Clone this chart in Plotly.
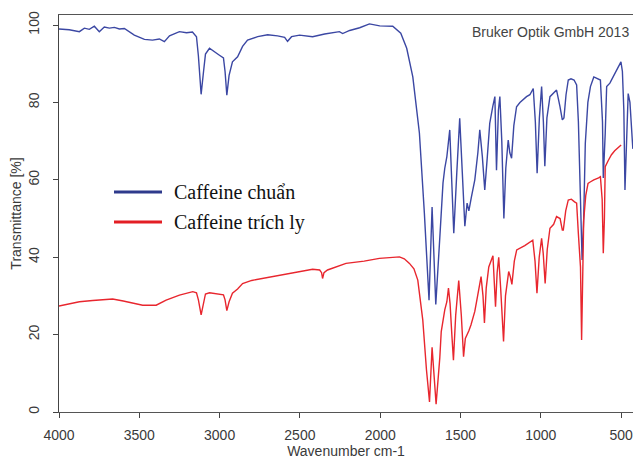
import plotly.graph_objects as go

# ---- data ----
wn_std = [4000, 3936, 3873, 3842, 3811, 3780, 3749, 3718, 3686, 3655, 3624, 3593, 3531, 3468, 3418,
          3375, 3344, 3312, 3250, 3206, 3169, 3144, 3132, 3115, 3100, 3088, 3063, 3032, 3001, 2976,
          2966, 2955, 2941, 2920, 2888, 2857, 2826, 2763, 2701, 2639, 2595, 2577, 2552, 2502, 2421,
          2346, 2254, 2234, 2190, 2128, 2067, 2003, 1922, 1872, 1835, 1797, 1756, 1725, 1696, 1677,
          1654, 1629, 1609, 1598, 1585, 1567, 1554, 1542, 1523, 1505, 1489, 1473, 1459, 1448, 1432,
          1411, 1392, 1380, 1364, 1349, 1333, 1318, 1299, 1286, 1276, 1264, 1255, 1243, 1230, 1218,
          1203, 1193, 1182, 1168, 1151, 1130, 1089, 1068, 1047, 1034, 1023, 1009, 995, 984, 975,
          962, 943, 925, 902, 881, 866, 856, 843, 829, 812, 793, 777, 766, 753, 743,
          733, 723, 707, 691, 670, 652, 629, 616, 611, 599, 590, 570, 549, 527, 501,
          492, 483, 476, 467, 456, 445, 437, 427]
t_std = [99.0, 98.8, 98.3, 99.2, 98.9, 99.7, 98.3, 99.5, 99.2, 99.4, 99.0, 99.1, 97.4, 96.3, 96.1,
         96.4, 95.7, 97.2, 98.3, 98.0, 98.2, 97.0, 92.0, 82.1, 88.0, 92.5, 94.0, 93.2, 92.2, 91.5,
         88.0, 81.9, 87.0, 90.5, 91.8, 94.5, 96.1, 97.0, 97.5, 97.2, 96.8, 95.8, 97.0, 97.4, 97.0,
         97.7, 98.3, 97.8, 98.6, 99.3, 100.3, 99.8, 99.7, 97.9, 94.0, 86.6, 72.1, 51.4, 28.9, 53.0,
         27.8, 45.0, 59.2, 63.0, 66.0, 72.9, 60.0, 46.2, 62.0, 75.9, 62.0, 48.0, 54.0, 52.0, 55.6,
         60.0, 67.0, 72.9, 66.0, 57.4, 66.0, 74.6, 79.0, 81.5, 62.5, 78.0, 81.5, 70.0, 50.0, 63.0,
         70.3, 67.0, 65.6, 74.0, 78.9, 80.0, 81.5, 82.0, 83.6, 75.0, 61.7, 76.0, 84.1, 75.0, 63.5,
         76.0, 81.5, 82.3, 83.2, 79.0, 75.5, 76.0, 82.0, 85.8, 86.1, 85.8, 84.5, 75.0, 56.6, 39.3,
         50.0, 69.4, 80.0, 84.1, 86.6, 86.2, 85.8, 75.0, 60.5, 72.0, 84.1, 85.0, 86.6, 88.5, 90.5,
         88.0, 78.0, 57.4, 70.0, 82.3, 80.0, 73.7, 68.0]

wn_ext = [4000, 3936, 3873, 3790, 3720, 3666, 3600, 3530, 3479, 3395, 3333, 3250, 3167, 3144, 3132,
          3115, 3100, 3088, 3063, 3001, 2976, 2966, 2955, 2941, 2920, 2888, 2857, 2800, 2735, 2650,
          2502, 2421, 2377, 2365, 2359, 2350, 2328, 2213, 2100, 2005, 1880, 1850, 1818, 1790, 1766,
          1735, 1712, 1693, 1677, 1652, 1629, 1620, 1598, 1585, 1575, 1565, 1554, 1544, 1530, 1511,
          1495, 1481, 1470, 1454, 1448, 1435, 1411, 1400, 1380, 1372, 1360, 1351, 1340, 1324, 1298,
          1290, 1282, 1272, 1262, 1250, 1232, 1220, 1200, 1190, 1180, 1165, 1150, 1100, 1050, 1036,
          1024, 1010, 995, 985, 973, 960, 943, 920, 902, 880, 866, 860, 845, 829, 810,
          790, 777, 766, 753, 746, 740, 733, 720, 706, 690, 670, 640, 629, 618, 611,
          604, 599, 580, 560, 540, 510, 500]
t_ext = [27.4, 28.0, 28.5, 28.8, 29.1, 29.2, 28.7, 28.0, 27.6, 27.6, 28.9, 30.2, 31.1, 30.8, 29.0,
         25.1, 28.0, 30.5, 30.8, 30.5, 30.3, 29.0, 26.2, 28.5, 30.7, 31.8, 33.2, 34.0, 34.5, 35.3,
         36.3, 36.9, 36.7, 36.0, 34.5, 36.0, 36.7, 38.4, 39.0, 39.7, 40.1, 39.6, 38.4, 37.0, 34.1,
         23.8, 10.9, 2.6, 16.7, 2.0, 14.0, 20.8, 26.4, 28.5, 32.0, 28.0, 20.0, 13.4, 25.0, 34.0,
         25.0, 14.3, 19.0, 20.3, 21.0, 22.5, 26.0, 28.5, 33.0, 35.0, 30.0, 23.0, 32.0, 37.5, 40.4,
         35.0, 27.2, 36.0, 40.0, 32.0, 18.2, 30.0, 36.3, 35.0, 33.0, 39.0, 41.9, 43.0, 44.4, 39.0,
         30.7, 40.0, 44.9, 41.0, 33.2, 42.0, 47.5, 48.5, 50.5, 50.0, 47.0, 47.0, 52.0, 54.8, 55.0,
         54.3, 54.0, 46.0, 37.5, 18.6, 30.0, 49.6, 56.0, 59.1, 59.5, 60.0, 60.5, 60.8, 55.0, 41.0,
         50.0, 63.4, 65.0, 66.5, 67.5, 68.6, 69.0]

series_names = ["Caffeine chuẩn", "Caffeine trích ly"]
series_colors = ["#3B47A3", "#E8262E"]
legend_colors = ["#2E3A8C", "#E31E24"]
x_ticks = [4000, 3500, 3000, 2500, 2000, 1500, 1000, 500]
y_ticks = [0, 20, 40, 60, 80, 100]

fig = go.Figure()
for wn, t, name, col in [(wn_std, t_std, series_names[0], series_colors[0]),
                         (wn_ext, t_ext, series_names[1], series_colors[1])]:
    fig.add_trace(go.Scatter(x=wn, y=t, mode="lines", name=name,
                             line=dict(color=col, width=1.4), showlegend=False))

tick_font = dict(family="Liberation Sans, Arial, sans-serif", size=14, color="#3a3a3a")

fig.update_layout(
    width=633, height=460,
    margin=dict(l=59, r=0, t=15, b=48),
    paper_bgcolor="white", plot_bgcolor="white",
    xaxis=dict(range=[4000, 426], tickvals=x_ticks, ticks="outside", ticklen=5,
               tickcolor="#444", showline=True, linecolor="#555", linewidth=1, mirror=True,
               showgrid=False, zeroline=False, tickfont=tick_font, ticklabelstandoff=5,
               ticklabeloverflow="allow",
               title=dict(text="Wavenumber cm-1", font=tick_font, standoff=2)),
    yaxis=dict(range=[0, 102.6], tickvals=y_ticks, ticks="outside", ticklen=5,
               tickcolor="#444", showline=True, linecolor="#444", linewidth=1,
               showgrid=False, zeroline=False, tickfont=tick_font, tickangle=-90,
               ticklabelstandoff=8, ticklabeloverflow="allow",
               title=dict(text="Transmittance [%]", font=tick_font, standoff=1)),
)

# manual legend
def px2paper(px, py):
    return (px - 59) / 574, (412 - py) / 397

for i, (name, col) in enumerate(zip(series_names, legend_colors)):
    py = 192 + 30 * i
    x0, y0 = px2paper(114, py)
    x1, _ = px2paper(162, py)
    fig.add_shape(type="line", xref="paper", yref="paper", x0=x0, x1=x1, y0=y0, y1=y0,
                  line=dict(color=col, width=3))
    tx, _ = px2paper(172, py)
    fig.add_annotation(xref="paper", yref="paper", x=tx, y=y0, text=name, showarrow=False,
                       xanchor="left", yanchor="middle",
                       font=dict(family="Liberation Serif, Times New Roman, serif", size=20, color="#111"))

ax, ay = px2paper(631, 32)
fig.add_annotation(xref="paper", yref="paper", x=ax, y=ay, text="Bruker Optik GmbH 2013",
                   showarrow=False, xanchor="right", yanchor="middle",
                   font=dict(family="Liberation Sans, Arial, sans-serif", size=14, color="#444"))

fig.write_html("out.html")
